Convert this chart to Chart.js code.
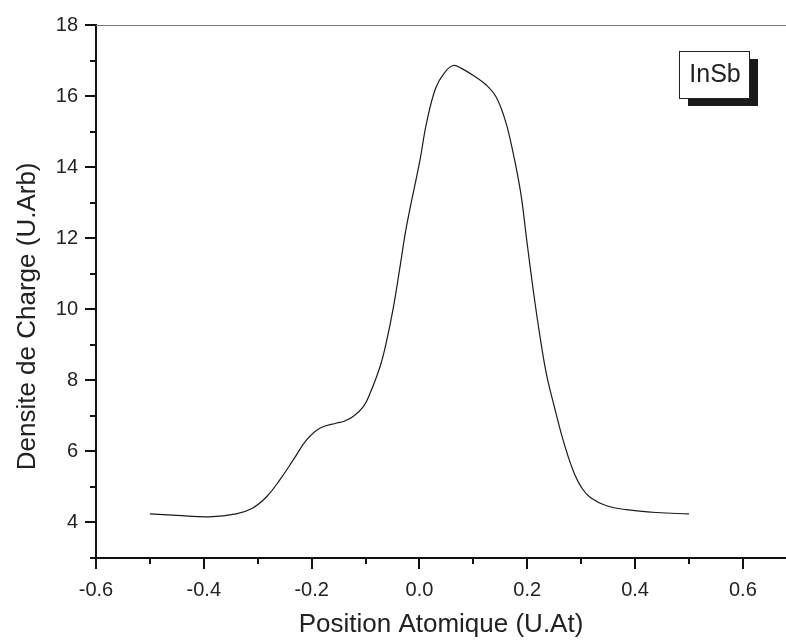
<!DOCTYPE html>
<html>
<head>
<meta charset="utf-8">
<script src="https://cdn.jsdelivr.net/npm/chart.js@4/dist/chart.umd.min.js"></script>
<style>
    html, body { margin: 0; padding: 0; background: #ffffff; }
    #wrap { width: 786px; height: 641px; }
</style>
</head>
<body>
<div id="wrap"><canvas id="chart-area" width="786" height="641"></canvas></div>
<script>
var seriesName = 'InSb';
var positions = [-0.50, -0.45, -0.39, -0.34, -0.31, -0.283, -0.259, -0.234, -0.209, -0.184, -0.153, -0.141, -0.123, -0.104, -0.092, -0.073, -0.061, -0.048, -0.036, -0.024, 0.001, 0.013, 0.030, 0.047, 0.063, 0.078, 0.103, 0.124, 0.142, 0.157, 0.168, 0.187, 0.199, 0.211, 0.224, 0.236, 0.252, 0.264, 0.276, 0.288, 0.300, 0.317, 0.347, 0.384, 0.44, 0.50];
var densities = [4.24, 4.20, 4.16, 4.24, 4.40, 4.73, 5.20, 5.76, 6.33, 6.66, 6.80, 6.84, 6.98, 7.26, 7.62, 8.39, 9.10, 10.08, 11.20, 12.33, 14.20, 15.23, 16.22, 16.67, 16.86, 16.78, 16.55, 16.31, 15.98, 15.42, 14.81, 13.36, 11.95, 10.55, 9.20, 8.15, 7.15, 6.45, 5.85, 5.35, 5.00, 4.70, 4.47, 4.36, 4.28, 4.24];

var xTicks = [-0.6, -0.5, -0.4, -0.3, -0.2, -0.1, 0.0, 0.1, 0.2, 0.3, 0.4, 0.5, 0.6];
var xTickLabels = ['-0.6', '', '-0.4', '', '-0.2', '', '0.0', '', '0.2', '', '0.4', '', '0.6'];
var yTicks = [3, 4, 5, 6, 7, 8, 9, 10, 11, 12, 13, 14, 15, 16, 17, 18];
var yTickLabels = ['', '4', '', '6', '', '8', '', '10', '', '12', '', '14', '', '16', '', '18'];

var fontFamily = '"Liberation Sans", Arial, sans-serif';

var points = [];
for (var i = 0; i < positions.length; i++) {
    points.push({ x: positions[i], y: densities[i] });
}

function setTicks(values) {
    return function (scale) {
        scale.ticks = values.map(function (v) { return { value: v }; });
    };
}

function labelFor(values, labels) {
    return function (value) {
        for (var i = 0; i < values.length; i++) {
            if (Math.abs(values[i] - value) < 1e-9) return labels[i];
        }
        return '';
    };
}

// tick marks (major longer than minor), top frame line, y title
var axisDecor = {
    id: 'axisDecor',
    afterDraw: function (chart) {
        var ctx = chart.ctx;
        var area = chart.chartArea;
        var xs = chart.scales.x;
        var ys = chart.scales.y;
        ctx.save();
        ctx.strokeStyle = '#777777';
        ctx.lineWidth = 1;
        ctx.beginPath();
        ctx.moveTo(area.left, area.top + 0.5);
        ctx.lineTo(area.right, area.top + 0.5);
        ctx.stroke();

        ctx.strokeStyle = '#111111';
        ctx.lineWidth = 2;
        ctx.beginPath();
        for (var i = 0; i < xTicks.length; i++) {
            var px = Math.round(xs.getPixelForValue(xTicks[i]));
            var len = xTickLabels[i] ? 11 : 6;
            ctx.moveTo(px, area.bottom);
            ctx.lineTo(px, area.bottom + len);
        }
        for (var j = 0; j < yTicks.length; j++) {
            var py = Math.round(ys.getPixelForValue(yTicks[j]));
            var ylen = yTickLabels[j] ? 11 : 6;
            ctx.moveTo(area.left, py);
            ctx.lineTo(area.left - ylen, py);
        }
        ctx.stroke();

        // y axis title, sits a little below the middle of the axis
        ctx.translate(28, ys.getPixelForValue(9.8));
        ctx.rotate(-Math.PI / 2);
        ctx.fillStyle = '#222222';
        ctx.font = '26px ' + fontFamily;
        ctx.textAlign = 'center';
        ctx.textBaseline = 'middle';
        ctx.fillText(ys.options.title.text, 0, 0);
        ctx.restore();
    }
};

// boxed legend with drop shadow
var shadowLegend = {
    id: 'shadowLegend',
    afterDraw: function (chart) {
        var ctx = chart.ctx;
        var area = chart.chartArea;
        var w = 70, h = 47;
        var left = area.right - 107;
        var top = area.top + 26;
        ctx.save();
        ctx.fillStyle = '#1a1a1a';
        ctx.fillRect(left + 9, top + 8, w, h);
        ctx.fillStyle = '#ffffff';
        ctx.fillRect(left, top, w, h);
        ctx.strokeStyle = '#222222';
        ctx.lineWidth = 1;
        ctx.strokeRect(left + 0.5, top + 0.5, w, h);
        ctx.fillStyle = '#222222';
        ctx.font = '25px ' + fontFamily;
        ctx.textAlign = 'center';
        ctx.textBaseline = 'middle';
        ctx.fillText(chart.data.datasets[0].label, left + w / 2 + 1, top + h / 2 + 1);
        ctx.restore();
    }
};

function drawChart() {
    var config = {
        type: 'line',
        data: {
            datasets: [{
                label: seriesName,
                data: points,
                borderColor: '#1a1a1a',
                borderWidth: 1.2,
                pointRadius: 0,
                fill: false,
                tension: 0.4
            }]
        },
        options: {
            responsive: false,
            animation: false,
            layout: { padding: { top: 25, right: 0, left: 0, bottom: 0 } },
            plugins: {
                legend: { display: false },
                tooltip: { enabled: false }
            },
            scales: {
                x: {
                    type: 'linear',
                    min: -0.6,
                    max: 0.68,
                    afterBuildTicks: setTicks(xTicks),
                    afterFit: function (scale) {
                        scale.height = 83;
                        scale.paddingLeft = 0;
                        scale.paddingRight = 0;
                    },
                    grid: { display: true, drawOnChartArea: false, drawTicks: false },
                    border: { display: true, color: '#111111', width: 2 },
                    ticks: {
                        autoSkip: false,
                        maxRotation: 0,
                        padding: 20,
                        color: '#222222',
                        font: { family: fontFamily, size: 20 },
                        callback: labelFor(xTicks, xTickLabels)
                    },
                    title: {
                        display: true,
                        text: 'Position Atomique (U.At)',
                        color: '#222222',
                        padding: { top: 0, bottom: 1 },
                        font: { family: fontFamily, size: 26 }
                    }
                },
                y: {
                    type: 'linear',
                    min: 3,
                    max: 18,
                    afterBuildTicks: setTicks(yTicks),
                    afterFit: function (scale) {
                        scale.width = 96;
                        scale.paddingTop = 0;
                        scale.paddingBottom = 0;
                    },
                    grid: { display: true, drawOnChartArea: false, drawTicks: false },
                    border: { display: true, color: '#111111', width: 2 },
                    ticks: {
                        autoSkip: false,
                        padding: 18,
                        color: '#222222',
                        font: { family: fontFamily, size: 20 },
                        callback: labelFor(yTicks, yTickLabels)
                    },
                    title: {
                        display: false,
                        text: 'Densite de Charge (U.Arb)'
                    }
                }
            }
        },
        plugins: [axisDecor, shadowLegend]
    };
    var ctx = document.getElementById('chart-area').getContext('2d');
    window.myLine = new Chart(ctx, config);
}

drawChart();
</script>
</body>
</html>
